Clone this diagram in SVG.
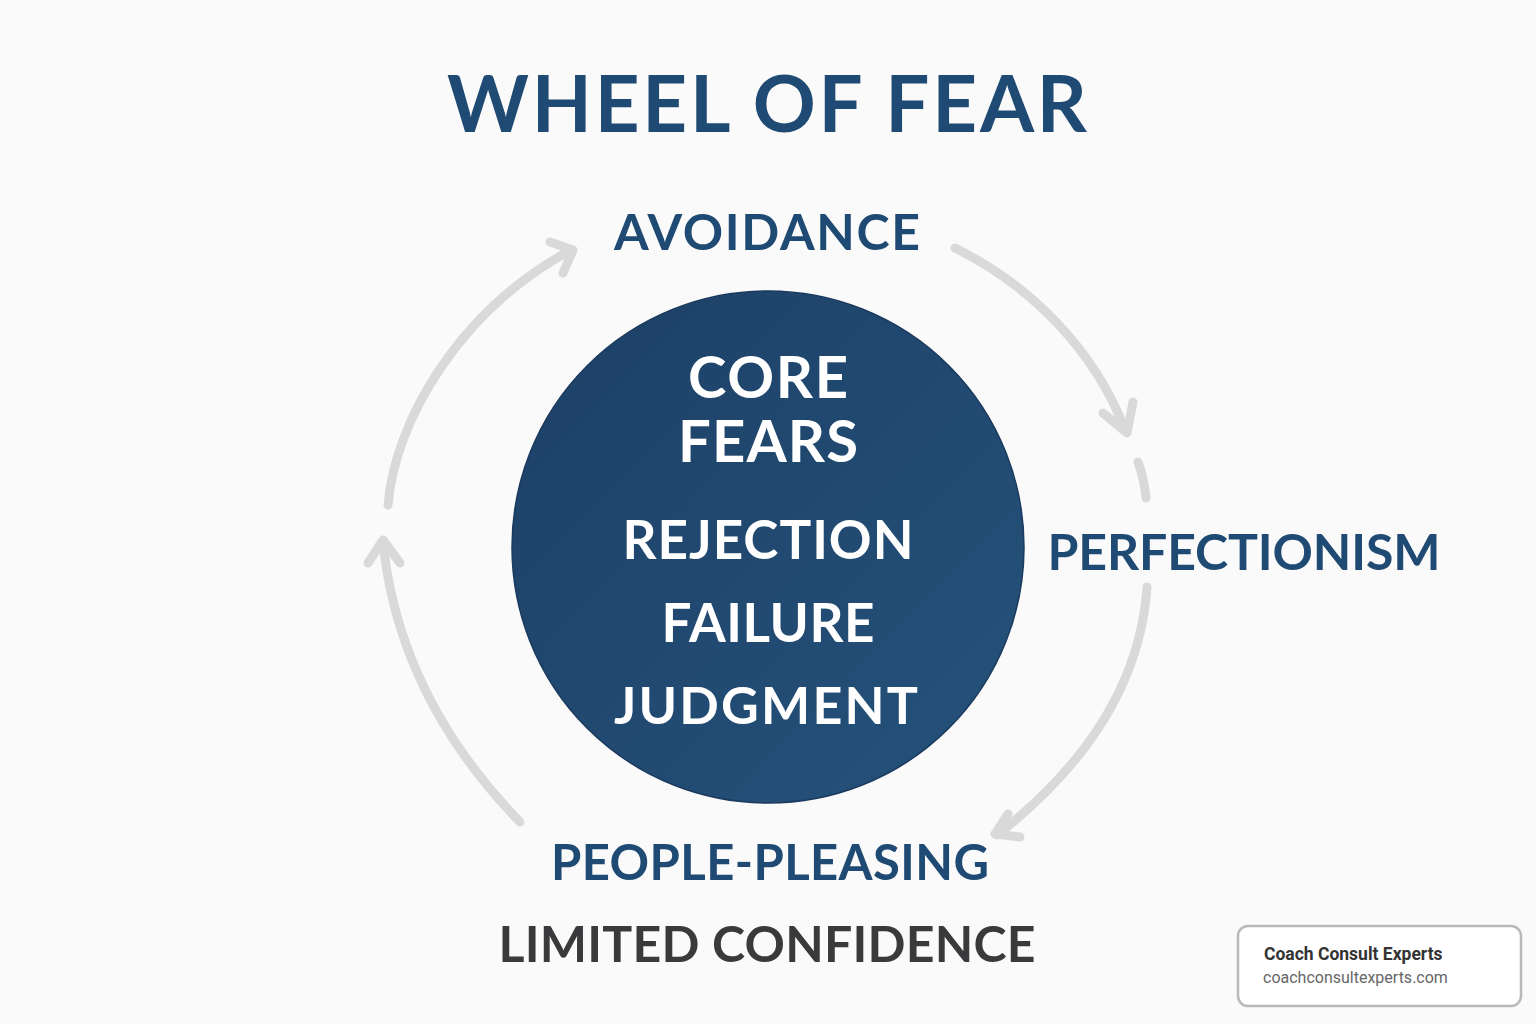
<svg xmlns="http://www.w3.org/2000/svg" width="1536" height="1024" viewBox="0 0 1536 1024">
<style>
.bg{fill:#fafafa}
.lbl{font-family:Lato,"Open Sans","DejaVu Sans",sans-serif;font-weight:700;fill:#1f4a73;text-anchor:middle}
.in{font-family:Lato,"Open Sans","DejaVu Sans",sans-serif;font-weight:700;fill:#ffffff;text-anchor:middle}
.arr{fill:none;stroke:#d9d9d9;stroke-width:9;stroke-linecap:round;stroke-linejoin:round}
</style>
<defs>
<linearGradient id="cg" x1="0" y1="0" x2="1" y2="1">
<stop offset="0" stop-color="#1d4066"/>
<stop offset="1" stop-color="#25527b"/>
</linearGradient>
</defs>
<rect class="bg" x="0" y="0" width="1536" height="1024"/>
<g id="title">
<text class="lbl" x="767" y="132" font-size="78" font-weight="900" textLength="640" lengthAdjust="spacing">WHEEL OF FEAR</text>
</g>
<g id="connectors">
<path class="arr" d="M388,505 C395,420 460,310 571,250"/>
<path class="arr" d="M550,242 L573,250 L563,273"/>
<path class="arr" d="M955,248 C1030,285 1095,350 1125,430"/>
<path class="arr" d="M1103,413 L1127,433 L1133,402"/>
<path class="arr" d="M1138,462 Q1144,478 1146,498"/>
<path class="arr" d="M1147,587 C1140,690 1080,770 997,835"/>
<path class="arr" d="M1008,814 L995,834 L1020,837"/>
<path class="arr" d="M520,822 C450,750 395,660 383,542"/>
<path class="arr" d="M368,563 L383,540 L400,563"/>
</g>
<g id="core">
<circle cx="768" cy="547" r="256" fill="url(#cg)" stroke="#1a3a5e" stroke-width="1.5"/>
<text class="in" x="768" y="398" font-size="58" textLength="160" lengthAdjust="spacing">CORE</text>
<text class="in" x="768" y="462" font-size="58" textLength="180" lengthAdjust="spacing">FEARS</text>
<text class="in" x="768" y="559" font-size="53" textLength="291" lengthAdjust="spacing">REJECTION</text>
<text class="in" x="768" y="642" font-size="53" textLength="213" lengthAdjust="spacing">FAILURE</text>
<text class="in" x="766" y="724" font-size="52" textLength="304" lengthAdjust="spacing">JUDGMENT</text>
</g>
<g id="avoidance">
<text class="lbl" x="767" y="250" font-size="50" textLength="306" lengthAdjust="spacing">AVOIDANCE</text>
</g>
<g id="perfectionism">
<text class="lbl" x="1244" y="570" font-size="50" textLength="393" lengthAdjust="spacing">PERFECTIONISM</text>
</g>
<g id="people-pleasing">
<text class="lbl" x="770" y="880" font-size="49" textLength="438" lengthAdjust="spacing">PEOPLE-PLEASING</text>
</g>
<g id="limited-confidence">
<text class="lbl" x="767" y="962" font-size="50" style="fill:#3a3a3c" textLength="537" lengthAdjust="spacing">LIMITED CONFIDENCE</text>
</g>
<g id="credit">
<rect x="1238" y="926" width="283" height="80" rx="10" fill="#ffffff" stroke="#b9b9b9" stroke-width="2.5"/>
<text x="1264" y="960" font-family="Roboto,'Liberation Sans',sans-serif" font-weight="700" font-size="17.5" fill="#333333">Coach Consult Experts</text>
<text x="1263" y="983" font-family="Roboto,'Liberation Sans',sans-serif" font-size="16" fill="#666666">coachconsultexperts.com</text>
</g>
</svg>
